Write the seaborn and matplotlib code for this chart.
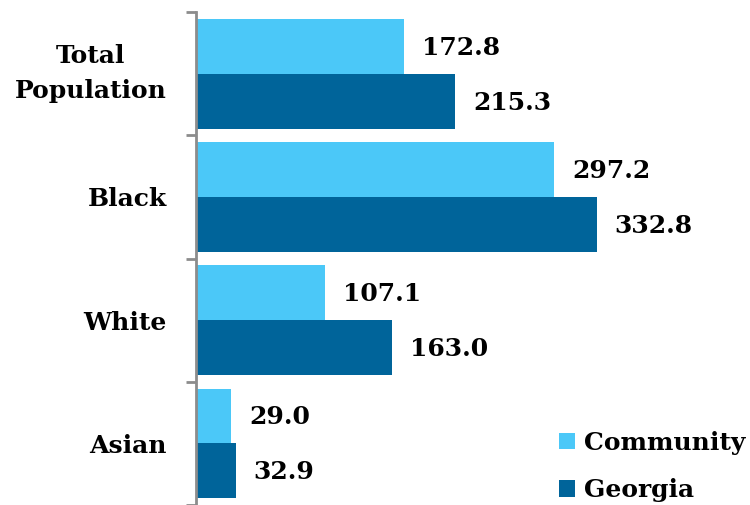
import matplotlib
matplotlib.use("Agg")
import matplotlib.pyplot as plt
import seaborn as sns
import pandas as pd
from matplotlib.ticker import FixedLocator

# Rates by group
categories = ["Total\nPopulation", "Black", "White", "Asian"]
community = [172.8, 297.2, 107.1, 29.0]
georgia = [215.3, 332.8, 163.0, 32.9]
series_names = ["Community", "Georgia"]
colors = ["#4BC8F8", "#00649A"]

df = pd.DataFrame({
    "group": categories * 2,
    "value": community + georgia,
    "series": [series_names[0]] * len(categories) + [series_names[1]] * len(categories),
})

sns.set_style("white")
plt.rcParams["font.family"] = ["DejaVu Serif"]
plt.rcParams["font.weight"] = "bold"
plt.rcParams["text.color"] = "black"
plt.rcParams["ytick.color"] = "black"

fig = plt.figure(figsize=(7.5, 5.05), dpi=100)
ax = fig.add_axes([0.2613, 0.0, 0.72, 0.976])

sns.barplot(data=df, y="group", x="value", hue="series", orient="h",
            palette=colors, width=0.89, saturation=1, linewidth=0, ax=ax,
            legend=True)

ax.set_xlim(0, 448.5)
ax.set_ylim(3.5, -0.5)
ax.set_xlabel("")
ax.set_ylabel("")

# Value labels at the end of each bar
for container in ax.containers:
    for bar in container:
        w = bar.get_width()
        ax.annotate(f"{w:.1f}", xy=(w, bar.get_y() + bar.get_height() / 2),
                    xytext=(13, -1), textcoords="offset points",
                    ha="left", va="center", fontsize=18, fontweight="bold",
                    color="black")

# Spines and ticks
for side in ["top", "right", "bottom"]:
    ax.spines[side].set_visible(False)
ax.spines["left"].set_color("#8C8C8C")
ax.spines["left"].set_linewidth(2)
ax.set_xticks([])
ax.tick_params(axis="y", which="major", length=0, pad=21, labelcolor="black")
ax.yaxis.set_minor_locator(FixedLocator([-0.5, 0.5, 1.5, 2.5, 3.5]))
ax.tick_params(axis="y", which="minor", length=7, width=2, color="#8C8C8C",
               direction="out", left=True)
for lbl in ax.get_yticklabels():
    lbl.set_fontsize(18)
    lbl.set_fontweight("bold")
    lbl.set_color("black")
    lbl.set_multialignment("center")
    lbl.set_linespacing(1.6)
    if "\n" in lbl.get_text():
        lbl.set_verticalalignment("center")

handles, labels = ax.get_legend_handles_labels()
ax.legend_.remove()
fig.legend(handles, labels, loc="lower left", bbox_to_anchor=(0.745, 0.005),
           frameon=False, handlelength=0.65, handleheight=0.65,
           handletextpad=0.35, labelspacing=0.95, borderaxespad=0, borderpad=0,
           prop={"weight": "bold", "size": 18})

fig.savefig("out.png", dpi=100)
